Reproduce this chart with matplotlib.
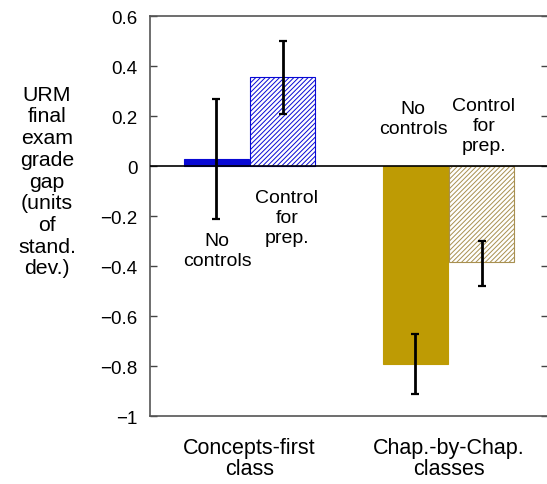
import matplotlib.pyplot as plt

plt.rcParams['font.family'] = ['Liberation Sans', 'DejaVu Sans']
plt.rcParams['hatch.linewidth'] = 0.7

groups = ['Concepts-first\nclass', 'Chap.-by-Chap.\nclasses']
bar_pos = [1, 2, 4, 5]
gap_vals = [0.03, 0.355, -0.79, -0.385]
err_lo = [-0.21, 0.21, -0.91, -0.48]
err_hi = [0.27, 0.50, -0.67, -0.30]
bar_labels = ['No\ncontrols', 'Control\nfor\nprep.', 'No\ncontrols', 'Control\nfor\nprep.']
yticks = [-1, -0.8, -0.6, -0.4, -0.2, 0, 0.2, 0.4, 0.6]
ytick_labels = ['\u22121', '\u22120.8', '\u22120.6', '\u22120.4', '\u22120.2', '0', '0.2', '0.4', '0.6']

blue = '#0808d4'
gold = '#be9b04'
gold_hatch = '#a89050'

fig = plt.figure(figsize=(5.47, 4.85), dpi=100)
ax = fig.add_axes([150/547, 1-417/485, 398/547, 400/485])

faces = [blue, 'white', gold, 'white']
edges = [blue, blue, gold, gold_hatch]
hatches = [None, '///////', None, '///////']
for x, v, fc, ec, h in zip(bar_pos, gap_vals, faces, edges, hatches):
    ax.bar(x, v, width=0.97, color=fc, edgecolor=ec, hatch=h, linewidth=0.8, zorder=2)

yerr_lo = [v - lo for v, lo in zip(gap_vals, err_lo)]
yerr_hi = [hi - v for v, hi in zip(gap_vals, err_hi)]
ax.errorbar(bar_pos, gap_vals, yerr=[yerr_lo, yerr_hi], fmt='none', ecolor='black',
            elinewidth=2, capsize=3, capthick=1.6, zorder=4)

ax.axhline(0, color='black', lw=1.2, zorder=3)

# labels next to the bars
lab_xy = [(1.01, -0.262), (2.065, -0.09), (3.965, 0.265), (5.035, 0.277)]
for (x, y), t in zip(lab_xy, bar_labels):
    ax.text(x, y, t, ha='center', va='top', fontsize=14, linespacing=1.25)

ax.set_xlim(0, 6.0)
ax.set_ylim(-1, 0.6)
ax.set_yticks(yticks)
ax.set_yticklabels(ytick_labels, fontsize=13.5)
ax.set_xticks([1.5, 4.5])
ax.set_xticklabels(groups, fontsize=15.5, linespacing=1.0)
ax.tick_params(axis='x', length=0, pad=15)
ax.tick_params(axis='y', direction='in', length=5, width=1, color='#444444',
               left=True, right=True, pad=9)
for s in ['left', 'bottom', 'top']:
    ax.spines[s].set_color('#555555')
    ax.spines[s].set_linewidth(1.2)
ax.spines['right'].set_visible(False)

fig.text(47/547, 1-182/485, 'URM\nfinal\nexam\ngrade\ngap\n(units\nof\nstand.\ndev.)',
         ha='center', va='center', fontsize=15.3, linespacing=1.18)

fig.savefig('out.png', dpi=100)
